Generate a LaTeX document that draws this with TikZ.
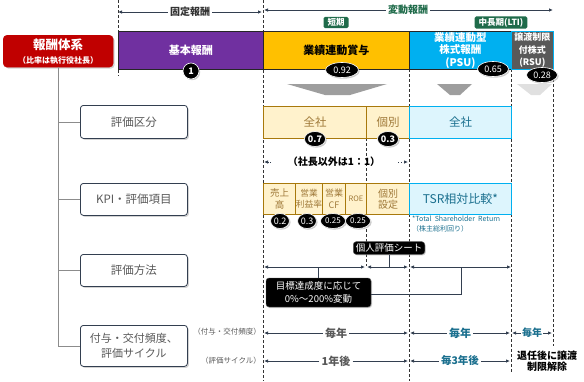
\documentclass[tikz,border=0pt]{standalone}
\usepackage{fontspec}
\setmainfont{Noto Sans CJK JP}
\usetikzlibrary{arrows.meta,positioning,calc,shadows,shapes.geometric}
\definecolor{kpurple}{HTML}{7030A0}
\definecolor{korange}{HTML}{FFC000}
\definecolor{kblue}{HTML}{00B0F0}
\definecolor{kgrey}{HTML}{595959}
\definecolor{kred}{HTML}{C00000}
\definecolor{kgreen}{HTML}{1F6B4A}
\definecolor{lorange}{HTML}{FFF2CC}
\definecolor{borange}{HTML}{A8790C}
\definecolor{torange}{HTML}{A07A3A}
\definecolor{lblue}{HTML}{DDF5FD}
\definecolor{tblue}{HTML}{1A6F8E}
\definecolor{navy}{HTML}{333F50}
\newcommand{\fs}[1]{\fontsize{#1}{#1}\selectfont}
\tikzset{
  bar/.style={draw=black!85,line width=0.8pt,anchor=north west,inner sep=1pt,align=center,font=\fs{11}\bfseries},
  cell/.style={draw=borange,line width=1pt,fill=lorange,anchor=north west,inner sep=0pt,align=center,text=torange,font=\fs{11.5}},
  cellb/.style={draw=kblue,line width=1pt,fill=lblue,anchor=north west,inner sep=0pt,align=center,text=tblue,font=\fs{11.5}},
  cat/.style={draw=navy,line width=0.8pt,rounded corners=3pt,fill=white,anchor=north west,minimum width=107pt,align=center,text=kgrey,font=\fs{11.5},drop shadow={shadow xshift=1.5pt,shadow yshift=-1.5pt,opacity=0.35}},
  badge/.style={ellipse,fill=black,draw=white,line width=0.6pt,text=white,inner sep=0.4pt,minimum height=15pt,font=\fs{9},drop shadow={shadow xshift=1.2pt,shadow yshift=-1.2pt,opacity=0.4}},
  tag/.style={fill=kgreen,rounded corners=1.5pt,text=white,inner xsep=4pt,inner ysep=1.5pt,font=\fs{8.5}\bfseries},
  note/.style={fill=black,rounded corners=3pt,text=white,align=center,draw=kgrey,drop shadow={shadow xshift=1pt,shadow yshift=-1pt,opacity=0.4}},
  vline/.style={dash pattern=on 3pt off 2pt,line width=0.7pt,black!80},
  arr/.style={-{Latex[length=4pt,width=3.5pt]},line width=0.8pt,navy},
  darr/.style={{Latex[length=4pt,width=3.5pt]}-{Latex[length=4pt,width=3.5pt]},line width=0.8pt,navy},
  lbl/.style={inner sep=2pt,font=\fs{11}\bfseries},
  chev/.style={fill=black!38}
}
\begin{document}
\begin{tikzpicture}[x=1pt,y=-1pt]
\useasboundingbox (0,0) rectangle (584,381);
% guides
\draw[vline] (118,0) -- (118,76);
\draw[vline] (263,0) -- (263,381);
\draw[vline] (409,69) -- (409,381);
\draw[vline] (511,69) -- (511,372);
\draw[vline] (553,69) -- (553,346);
\draw[vline] (366,138) -- (366,183);
\draw[vline] (366,214) -- (366,266);
\coordinate (xa) at (264,0);
\coordinate (xb) at (408,0);
\coordinate (xc) at (410,0);
\coordinate (xd) at (510,0);
\coordinate (xe) at (512,0);
\coordinate (xf) at (552,0);
% top brackets
\node[lbl,text=black!80,font=\fs{10}\bfseries] (fix) at (190,12) {固定報酬};
\node[lbl,text=kgreen,font=\fs{10}\bfseries] (var) at (408,10) {変動報酬};
\coordinate (fl) at (118,12);
\coordinate (fr) at (262,12);
\coordinate (vl) at (264,10);
\coordinate (vr) at (553,10);
\draw[arr] (fix.west) -- (fl);
\draw[arr] (fix.east) -- (fr);
\draw[arr] (var.west) -- (vl);
\draw[arr] (var.east) -- (vr);
\node[tag] (tshort) at (336,22.5) {短期};
\node[tag] (tlong) at (501,22.5) {中長期(LTI)};
% main bar
\node[bar,fill=kpurple,text=white,minimum width=145pt,minimum height=38pt] (base) at (118,31) {基本報酬};
\node[bar,fill=korange,text=black,minimum width=146pt,minimum height=38pt] (bonus) at (263,31) {業績連動賞与};
\node[bar,fill=kblue,text=white,minimum width=102pt,minimum height=38pt,font=\fs{10.5}\bfseries] (psu) at (409,31) {業績連動型\\[2pt]株式報酬\\[2pt](PSU)};
\node[bar,draw=kblue,fill=kgrey,text=white,minimum width=42pt,minimum height=38pt,inner sep=0pt,font=\fs{9}\bfseries] (rsu) at (511,31) {譲渡制限\\[3.5pt]付株式\\[3.5pt](RSU)};
\node[badge,circle,minimum size=16pt,inner sep=0pt,font=\fs{9}\bfseries] (b1) at (191,71) {1};
\node[badge,minimum width=33pt] (b92) at (342,70) {0.92};
\node[badge,minimum width=31pt] (b65) at (493,69) {0.65};
\node[badge,minimum width=31pt] (b28) at (542,75) {0.28};
% chevrons
\fill[chev] (287,84) -- (387,84) -- (350,95) -- (325,95) -- cycle;
\fill[chev] (437,84) -- (472,84) -- (460,95) -- (450,95) -- cycle;
\fill[black!12] (517,84) -- (552,84) -- (540,95) -- (531,95) -- cycle;
% left column
\node[draw=kred,fill=kred,rounded corners=4pt,anchor=north west,minimum width=110pt,minimum height=32pt,text=white,align=center,inner sep=1pt,drop shadow={shadow xshift=1.5pt,shadow yshift=-1.5pt,opacity=0.35}] (sys) at (3,35) {\fs{12.5}\bfseries 報酬体系\\[2pt]\fs{8}\bfseries （比率は執行役社長）};
\node[cat,minimum height=33pt] (c1) at (80,105) {評価区分};
\node[cat,minimum height=32pt] (c2) at (80,183) {KPI・評価項目};
\node[cat,minimum height=32pt] (c3) at (80,254) {評価方法};
\node[cat,minimum height=41pt,font=\fs{11}] (c4) at (80,325) {付与・交付頻度、\\[4pt]評価サイクル};
\draw[black!45,line width=0.8pt] (sys.south) -- (sys.south |- c4.west) -- (c4.west);
\foreach \c in {c1,c2,c3}
  \draw[black!45,line width=0.8pt] (sys.south |- \c.west) -- (\c.west);
% row 1
\node[cell,minimum width=103pt,minimum height=32pt] (zen) at (263,106) {全社};
\node[cell,minimum width=43pt,minimum height=32pt] (kob) at (366,106) {個別};
\node[cellb,minimum width=102pt,minimum height=32pt] (zenb) at (409,106) {全社};
\node[badge,minimum width=21pt] (b07) at (315,139) {\bfseries 0.7};
\node[badge,minimum width=21pt] (b03) at (388,139) {\bfseries 0.3};
\node[lbl,font=\fs{10}\bfseries] (ratio) at (334,162) {（社長以外は1：1）};
\coordinate (rl) at (271,162);
\coordinate (rr) at (398,162);
\draw[arr,dotted] (rl) -- (rl -| xa);
\draw[arr,dotted] (rr) -- (rr -| xb);
% row 2
\node[cell,minimum width=32pt,minimum height=31pt,font=\fs{9.5}] (uri) at (263,183) {売上\\[2pt]高};
\node[cell,minimum width=27pt,minimum height=31pt,font=\fs{8.7}] (eig) at (295,183) {営業\\[2.5pt]利益率};
\node[cell,minimum width=23pt,minimum height=31pt,font=\fs{9}] (ecf) at (322,183) {営業\\[2.5pt]CF};
\node[cell,minimum width=21pt,minimum height=31pt,font=\fs{7.5}] (roe) at (345,183) {ROE};
\node[cell,minimum width=43pt,minimum height=31pt,font=\fs{10}] (kset) at (366,183) {個別\\[1.5pt]設定};
\node[cellb,minimum width=102pt,minimum height=31pt,font=\fs{12}] (tsr) at (409,183) {TSR相対比較*};
\node[badge,minimum width=18pt] (b02) at (280,221) {0.2};
\node[badge,minimum width=18pt] (b3) at (307,221) {0.3};
\node[badge,minimum width=25pt,font=\fs{8}] (b25a) at (333,221) {0.25};
\node[badge,minimum width=25pt,font=\fs{8}] (b25b) at (358,221) {0.25};
\node[anchor=north west,inner sep=0pt,text=tblue,align=left,font=\fs{7}] (tsrnote) at (412,216) {*Total\ \ Shareholder\ \ Return\\[3pt]（株主総利回り）};
% row 3
\coordinate (m0) at (264,267);
\coordinate (m1) at (365,267);
\coordinate (m2) at (367,267);
\coordinate (m3) at (408,267);
\coordinate (m4) at (410,267);
\coordinate (m5) at (511,267);
\coordinate (mj) at (461,267);
\draw[darr] (m0) -- (m1);
\draw[darr] (m2) -- (m3);
\draw[darr] (m4) -- (m5);
\node[note,font=\fs{9.5},inner xsep=2.5pt,inner ysep=2pt] (sheet) at (389,248) {個人評価シート};
\node[note,font=\fs{9.5},minimum width=105pt,minimum height=29pt,inner sep=1pt] (goal) at (318.5,292.5) {目標達成度に応じて\\[3pt]0\%～200\%変動};
\draw[navy,line width=0.8pt] (sheet.south) -- (sheet.south |- m2);
\draw[navy,line width=0.8pt] (goal.north) -- (goal.north |- m0);
\draw[navy,line width=0.8pt] ([yshift=-2pt]goal.east) -| (mj);
% row 4
\node[anchor=east,inner sep=1pt,text=kgrey,font=\fs{7.5}] (freq) at (262,332) {（付与・交付頻度）};
\node[anchor=east,inner sep=1pt,text=kgrey,font=\fs{7.5}] (cyc) at (262,361) {（評価サイクル）};
\node[lbl,text=kgrey,fill=white] (f1) at (336,333) {毎年};
\node[lbl,text=tblue,fill=white] (f2) at (460,333) {毎年};
\node[lbl,text=tblue,fill=white,inner sep=1pt,font=\fs{10}\bfseries] (f3) at (532,333) {毎年};
\node[lbl,text=kgrey,fill=white] (s1) at (336,361) {1年後};
\node[lbl,text=tblue,fill=white,font=\fs{10.5}\bfseries] (s2) at (460,361) {毎3年後};
\node[lbl,align=center,font=\fs{10}\bfseries,inner sep=0pt] (s3) at (547,361) {退任後に譲渡\\[0.5pt]制限解除};
\foreach \n/\l/\r in {f1/xa/xb,f2/xc/xd,s1/xa/xb,s2/xc/xd,f3/xe/xf} {
  \draw[arr] (\n.west) -- (\n.west -| \l);
  \draw[arr] (\n.east) -- (\n.east -| \r);
}
\end{tikzpicture}
\end{document}
